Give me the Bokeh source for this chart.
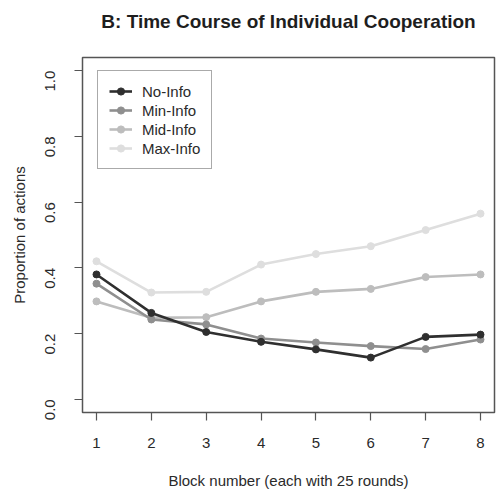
import math
from bokeh.plotting import figure
from bokeh.models import Range1d, FixedTicker, Legend, LegendItem, Title
from bokeh.embed import file_html
from bokeh.resources import INLINE

blocks = [1, 2, 3, 4, 5, 6, 7, 8]
no_info = [0.380, 0.263, 0.205, 0.175, 0.152, 0.127, 0.190, 0.197]
min_info = [0.352, 0.243, 0.228, 0.185, 0.173, 0.162, 0.153, 0.182]
mid_info = [0.298, 0.248, 0.250, 0.298, 0.327, 0.336, 0.372, 0.380]
max_info = [0.420, 0.325, 0.327, 0.410, 0.442, 0.466, 0.515, 0.565]

series_names = ["No-Info", "Min-Info", "Mid-Info", "Max-Info"]
series_values = [no_info, min_info, mid_info, max_info]
series_colors = ["#2f2f2f", "#8f8f8f", "#bdbdbd", "#dedede"]

y_ticks = [0.0, 0.2, 0.4, 0.6, 0.8, 1.0]
y_tick_labels = ["0.0", "0.2", "0.4", "0.6", "0.8", "1.0"]

title_text = "B: Time Course of Individual Cooperation"

FONT = "Liberation Sans"

p = figure(width=496, height=493, output_backend="svg", toolbar_location=None,
           x_range=Range1d(0.745, 8.255), y_range=Range1d(-0.04, 1.04),
           min_border_left=82, min_border_right=2, min_border_top=57,
           min_border_bottom=81)

# spacer between the plot frame and the title (closest panel to the frame)
spacer = Title(text=" ", text_font_size="1px", standoff=23)
p.add_layout(spacer, "above")
main_title = Title(text=title_text, text_font=FONT, text_font_size="19px",
                   text_font_style="bold", text_color="#1e1e1e",
                   align="center", standoff=0)
p.add_layout(main_title, "above")

p.grid.visible = False
p.outline_line_color = "#555555"
p.outline_line_width = 1.5
p.background_fill_color = "white"
p.border_fill_color = "white"

p.xaxis.ticker = FixedTicker(ticks=blocks)
p.yaxis.ticker = FixedTicker(ticks=y_ticks)
p.yaxis.major_label_overrides = {t: l for t, l in zip(y_ticks, y_tick_labels)}
p.yaxis.major_label_orientation = math.pi / 2

for ax in (p.xaxis, p.yaxis):
    ax.axis_line_color = None
    ax.major_tick_line_color = "#555555"
    ax.major_tick_line_width = 1.2
    ax.major_tick_out = 8
    ax.major_tick_in = 0
    ax.minor_tick_line_color = None
    ax.major_label_text_font = FONT
    ax.major_label_text_font_size = "15px"
    ax.major_label_text_color = "#2a2a2a"
    ax.axis_label_text_font = FONT
    ax.axis_label_text_font_size = "15px"
    ax.axis_label_text_font_style = "normal"
    ax.axis_label_text_color = "#2a2a2a"

p.xaxis.axis_label = "Block number (each with 25 rounds)"
p.yaxis.axis_label = "Proportion of actions"
p.xaxis.major_label_standoff = 17
p.xaxis.axis_label_standoff = 21
p.yaxis.major_label_standoff = 24
p.yaxis.axis_label_standoff = 10

renderers = {}
for name, vals, col in reversed(list(zip(series_names, series_values, series_colors))):
    l = p.line(blocks, vals, line_color=col, line_width=2.6)
    s = p.scatter(blocks, vals, size=7, fill_color=col, line_color=col)
    renderers[name] = [l, s]

legend = Legend(items=[LegendItem(label=n, renderers=renderers[n]) for n in series_names],
                location=(15, 243), margin=0, padding=11, spacing=1,
                label_height=18, glyph_height=18, glyph_width=23, label_standoff=10,
                label_text_font=FONT, label_text_font_size="15px",
                label_text_color="#2a2a2a",
                border_line_color="#555555", border_line_width=1.5,
                background_fill_alpha=1.0)
p.add_layout(legend, "center")

open("out.html", "w").write(file_html(p, INLINE))
